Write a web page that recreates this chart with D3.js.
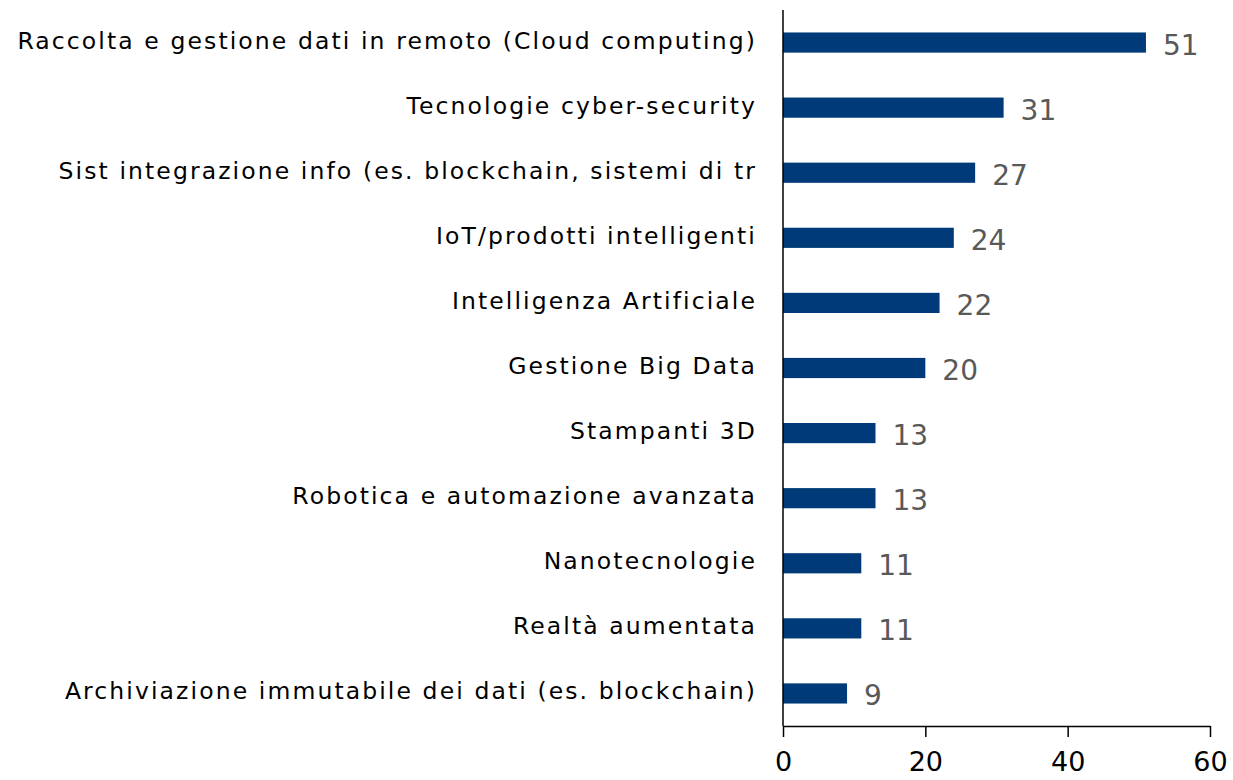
<!DOCTYPE html>
<html><head><meta charset="utf-8">
<script src="https://cdn.jsdelivr.net/npm/d3@7"></script>
<style>body{margin:0;background:#fff}svg{display:block}</style>
</head><body>
<svg id="chart" width="1233" height="780"></svg>
<script>
const categories = [
  "Raccolta e gestione dati in remoto (Cloud computing)",
  "Tecnologie cyber-security",
  "Sist integrazione info (es. blockchain, sistemi di tr",
  "IoT/prodotti intelligenti",
  "Intelligenza Artificiale",
  "Gestione Big Data",
  "Stampanti 3D",
  "Robotica e automazione avanzata",
  "Nanotecnologie",
  "Realtà aumentata",
  "Archiviazione immutabile dei dati (es. blockchain)"
];
const values = [51, 31, 27, 24, 22, 20, 13, 13, 11, 11, 9];
const xTicks = [0, 20, 40, 60];

(function () {
const font = "'DejaVu Sans', sans-serif";
const svg = d3.select("#chart");
const mLeft = 783, mRight = 1210, mTop = 10, mBottom = 726;

const x = d3.scaleLinear().domain([0, 60]).range([mLeft, mRight]);
const y = d3.scaleBand().domain(categories).range([mTop, mBottom]).paddingInner(0.69).paddingOuter(0.345);

svg.append("g").selectAll("rect").data(values).join("rect")
  .attr("x", x(0)).attr("y", (d, i) => y(categories[i]))
  .attr("width", d => x(d) - x(0)).attr("height", y.bandwidth())
  .attr("fill", "#003a78");

svg.append("g").selectAll("text").data(values).join("text")
  .attr("x", d => x(d) + 17).attr("y", (d, i) => y(categories[i]) + y.bandwidth() / 2 + 12)
  .attr("font-family", font).attr("font-size", 28).attr("fill", "#595959")
  .text(d => d);

svg.append("g").selectAll("text").data(categories).join("text")
  .attr("x", 757).attr("y", d => y(d) + y.bandwidth() / 2 + 6)
  .attr("text-anchor", "end")
  .attr("font-family", font).attr("font-size", 23.5).attr("letter-spacing", "2.1px").attr("fill", "#000")
  .text(d => d);

svg.append("line").attr("x1", mLeft).attr("x2", mLeft).attr("y1", mTop).attr("y2", mBottom)
  .attr("stroke", "#000").attr("stroke-width", 1.5);

const xAxis = d3.axisBottom(x).tickValues(xTicks).tickSize(11).tickPadding(15).tickSizeOuter(0);
const gx = svg.append("g").attr("transform", `translate(0,${mBottom})`).call(xAxis);
gx.select(".domain").attr("stroke", "#000").attr("stroke-width", 1.5);
gx.selectAll(".tick line").attr("stroke", "#000").attr("stroke-width", 1.5);
gx.selectAll(".tick text").attr("font-family", font).attr("font-size", 27).attr("fill", "#000");
})();
</script>
</body></html>
